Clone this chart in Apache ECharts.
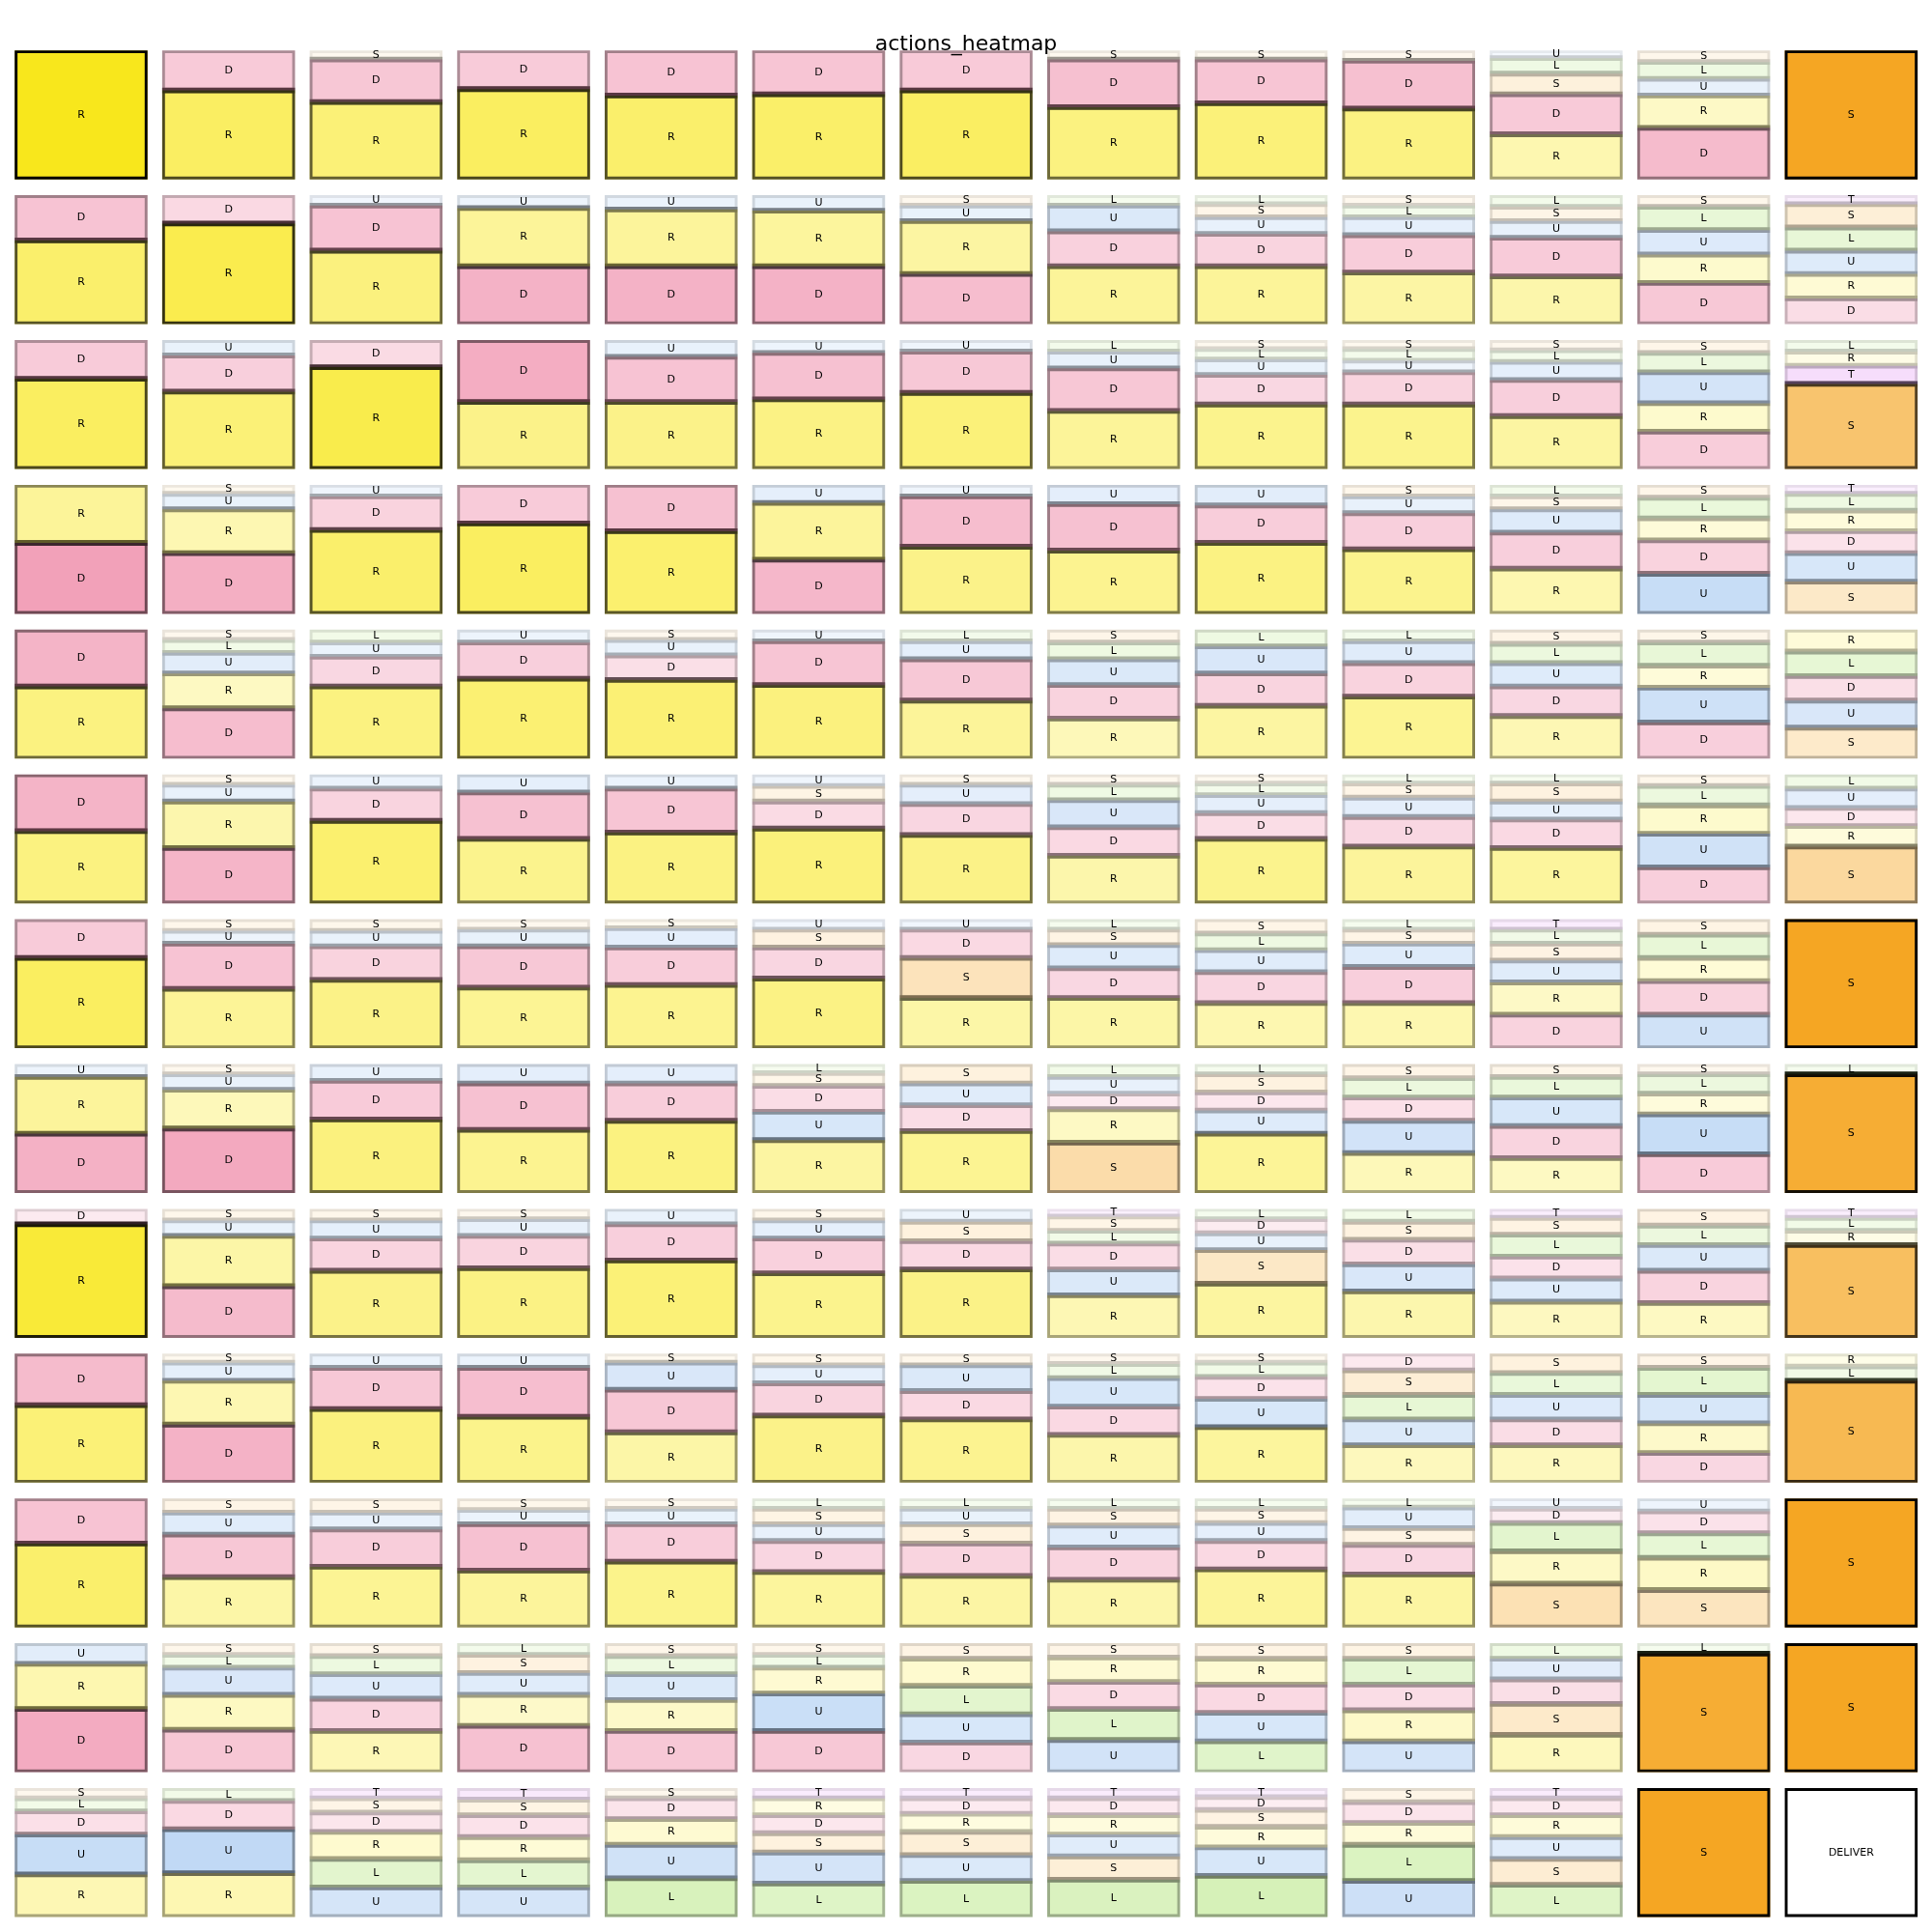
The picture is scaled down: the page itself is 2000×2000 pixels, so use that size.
<!DOCTYPE html>
<html><head><meta charset="utf-8">
<script src="https://cdn.jsdelivr.net/npm/echarts@6/dist/echarts.min.js"></script>
<style>html,body{margin:0;padding:0;background:#fff}#c{width:2000px;height:2000px}</style>
</head><body><div id="c"></div>
<script>
// Actions and their colours
const actionNames = ['R','D','S','U','L','T','DELIVER'];
const actionColors = {R:'#F8E71C', D:'#E75480', S:'#F5A623', U:'#4A90E2', L:'#7ED321', T:'#BD10E0', DELIVER:'#FFFFFF'};

// Each cell: action + probability (%) listed bottom -> top
const row00 = ["R100","R69 D31","R60 D33 S7","R70 D30","R65 D35","R66 D34","R69 D31","R56 D37 S7","R59 D34 S7","R55 D37 S8","R35 D31 S16 L12 U6","D40 R25 U13 L13 S9","S100"];
const row01 = ["R65 D35","R78 D22","R57 D35 U8","D45 R45 U10","D45 R44 U11","D45 R43 U12","D39 R41 U12 S8","R45 D27 U20 L8","R45 D25 U13 S10 L7","R40 D29 U14 L9 S8","R37 D30 U13 S11 L9","D32 R22 U19 L18 S9","D20 R19 U18 L18 S18 T7"];
const row02 = ["R70 D30","R60 D28 U12","R79 D21","R52 D48","R52 D35 U13","R54 D36 U10","R59 D32 U9","R45 D33 U13 L9","R50 D23 U12 L8 S7","R50 D25 U9 L9 S7","R41 D28 U14 L9 S8","D29 R22 U24 L15 S10","S66 T14 R11 L9"];
const row03 = ["D55 R45","D47 R34 U12 S7","R65 D26 U9","R70 D30","R64 D36","D42 R44 U14","R52 D39 U9","R49 D36 U15","R55 D29 U16","R50 D28 U13 S9","R35 D28 U18 S10 L9","U31 D26 R17 L16 S10","S25 U22 D17 R16 L13 T7"];
const row04 = ["R56 D44","D39 R27 U16 L10 S8","R56 D23 U11 L10","R62 D28 U10","R61 D19 U12 S8","R57 D34 U9","R45 D32 U14 L9","R31 D26 U20 L13 S10","R41 D25 U21 L13","R48 D26 U17 L9","R33 D23 U18 L15 S11","D28 U27 R17 L18 S10","S24 U21 D19 L19 R17"];
const row05 = ["R56 D44","D43 R36 U13 S8","R64 D25 U11","R50 D36 U14","R55 D34 U11","R58 D21 S12 U9","R53 D24 U15 S8","R37 D22 U21 L12 S8","R50 D20 U14 L9 S7","R44 D23 U15 S11 L7","R43 D22 U14 S14 L7","D28 U26 R22 L15 S9","S44 R16 D14 U15 L11"];
const row06 = ["R70 D30","R46 D35 U10 S9","R53 D26 U12 S9","R47 D32 U13 S8","R49 D29 U15 S7","R54 D24 S14 U8","R39 S31 D22 U8","R39 D23 U18 S12 L8","R35 D24 U17 L13 S11","R35 D28 U18 S11 L8","D26 R25 U17 S13 L11 T8","U26 D26 R18 L18 S12","S100"];
const row07 = ["D46 R44 U10","D50 R30 U12 S8","R57 D30 U13","R49 D36 U15","R56 D29 U15","R41 U22 D20 S10 L7","R48 D20 U17 S15","S39 R26 D12 U13 L10","R46 U18 D14 S14 L8","R31 U25 D18 L15 S11","R27 D25 U22 L16 S10","D30 U31 R16 L15 S8","S92 L8"];
const row08 = ["R88 D12","D40 R39 U12 S9","R52 D25 U14 S9","R54 D25 U13 S8","R60 D28 U12","R50 D27 U14 S9","R53 D22 S15 U10","R33 U20 D20 L10 S11 T6","R42 S26 U13 D11 L8","R36 U21 D19 S14 L10","R28 U18 D17 L17 S13 T7","R27 D25 U20 L15 S13","S72 R11 L10 T7"];
const row09 = ["R60 D40","D45 R34 U14 S7","R57 D32 U11","R51 D38 U11","R39 D33 U21 S7","R52 D25 U14 S9","R49 D22 U20 S9","R37 D22 U22 L11 S8","R43 U22 D17 L11 S7","R29 U20 L19 S19 D13","R29 D20 U19 L17 S15","D23 R23 U22 L21 S11","S79 L11 R10"];
const row10 = ["R65 D35","R39 D33 U17 S11","R47 D29 U13 S11","R44 D36 U11 S9","R51 D29 U12 S8","R43 D24 U13 S12 L8","R40 D25 S15 U12 L8","R37 D25 U17 S13 L8","R45 D22 U14 S11 L8","R41 D23 S13 U16 L7","S34 R25 L22 D11 U8","S29 R25 L19 D17 U10","S100"];
const row11 = ["D49 R35 U16","D33 R27 U21 L10 S9","R32 D25 U19 L14 S10","D36 R24 U17 S14 L9","D32 R24 U20 L14 S10","D32 U29 R20 L10 S9","D23 U22 L22 R21 S12","U25 L24 D21 R19 S11","L24 U22 D22 R20 S12","U24 R24 D20 L20 S12","R29 S24 D19 U16 L12","S92 L8","S100"];
const row12 = ["R33 U31 D18 L10 S8","R34 U34 D22 L10","U23 L22 R21 D15 S11 T8","U23 L21 R18 D17 S12 T9","L30 U26 R20 D16 S8","L26 U24 S15 D14 R13 T8","L28 U20 S18 R14 D12 T8","L29 S18 U17 R15 D13 T8","L32 U22 R16 S13 D10 T7","U28 L28 R17 D16 S11","L25 S20 U17 R17 D13 T8","S100","DELIVER100"];
const rows = [row00,row01,row02,row03,row04,row05,row06,row07,row08,row09,row10,row11,row12];
const titleText = 'actions_heatmap';

// layout constants (pixels)
const PITCH_X = 152.7, PITCH_Y = 149.9, BOX_W = 137.5, BOX_H = 133.5;
const CELL_W = BOX_W / PITCH_X, CELL_H = BOX_H / PITCH_Y;
const LINE_W = 5.8;

const segs = [];
rows.forEach((row, r) => row.forEach((cell, c) => {
  let bottom = 0;
  cell.split(' ').forEach(tok => {
    const m = tok.match(/^([A-Z]+)(\d+)$/);
    const p = (+m[2]) / 100;
    segs.push([c, r, bottom, p, actionNames.indexOf(m[1])]);
    bottom += p;
  });
}));

function segBox(api) {
  const c = api.value(0), r = api.value(1), b = api.value(2), p = api.value(3);
  const tl = api.coord([c, r + CELL_H * (1 - b - p)]);
  const br = api.coord([c + CELL_W, r + CELL_H * (1 - b)]);
  const ctl = api.coord([c, r]);
  const cbr = api.coord([c + CELL_W, r + CELL_H]);
  return {x0: tl[0], y0: tl[1], x1: br[0], y1: br[1], X0: ctl[0], Y0: ctl[1], X1: cbr[0], Y1: cbr[1]};
}

const chart = echarts.init(document.getElementById('c'), null, {renderer: 'canvas'});
chart.setOption({
  animation: false,
  backgroundColor: '#ffffff',
  grid: {left: 15.2, top: 52.2, width: 12 * PITCH_X + BOX_W, height: 12 * PITCH_Y + BOX_H, containLabel: false, outerBoundsMode: 'none'},
  xAxis: {type: 'value', min: 0, max: 12 + CELL_W, show: false},
  yAxis: {type: 'value', min: 0, max: 12 + CELL_H, inverse: true, show: false},
  graphic: [{
    type: 'text', x: 1000, y: 46, z: 100,
    style: {text: titleText, fontSize: 22, fontFamily: 'DejaVu Sans', fill: '#000', align: 'center', verticalAlign: 'middle'}
  }],
  series: [{
    type: 'custom', coordinateSystem: 'cartesian2d', data: segs, clip: false, silent: true, z: 2,
    encode: {x: 0, y: 1},
    renderItem: function (params, api) {
      const b = segBox(api);
      const a = actionNames[api.value(4)];
      const p = api.value(3);
      const h = LINE_W / 2;
      // edge stroke centred on the segment outline, clipped to the cell box
      const ox0 = Math.max(b.x0 - h, b.X0), ox1 = Math.min(b.x1 + h, b.X1);
      const oy0 = Math.max(b.y0 - h, b.Y0), oy1 = Math.min(b.y1 + h, b.Y1);
      const ix0 = b.x0 + h, ix1 = b.x1 - h, iy0 = b.y0 + h, iy1 = b.y1 - h;
      let d = 'M' + ox0 + ' ' + oy0 + 'L' + ox1 + ' ' + oy0 + 'L' + ox1 + ' ' + oy1 + 'L' + ox0 + ' ' + oy1 + 'Z';
      if (ix1 > ix0 && iy1 > iy0) {
        d += 'M' + ix0 + ' ' + iy0 + 'L' + ix0 + ' ' + iy1 + 'L' + ix1 + ' ' + iy1 + 'L' + ix1 + ' ' + iy0 + 'Z';
      }
      return {type: 'group', children: [
        {type: 'rect', shape: {x: b.x0, y: b.y0, width: b.x1 - b.x0, height: b.y1 - b.y0},
          style: {fill: actionColors[a], opacity: p}},
        {type: 'path', shape: {pathData: d}, style: {fill: '#000', opacity: p}}
      ]};
    }
  }, {
    type: 'custom', coordinateSystem: 'cartesian2d', data: segs, clip: false, silent: true, z: 3,
    encode: {x: 0, y: 1},
    renderItem: function (params, api) {
      const b = segBox(api);
      const a = actionNames[api.value(4)];
      return {type: 'text', x: (b.x0 + b.x1) / 2, y: (b.y0 + b.y1) / 2,
        style: {text: a, fill: '#000', fontSize: 11, fontFamily: 'DejaVu Sans', align: 'center', verticalAlign: 'middle'}};
    }
  }]
});
</script></body></html>
